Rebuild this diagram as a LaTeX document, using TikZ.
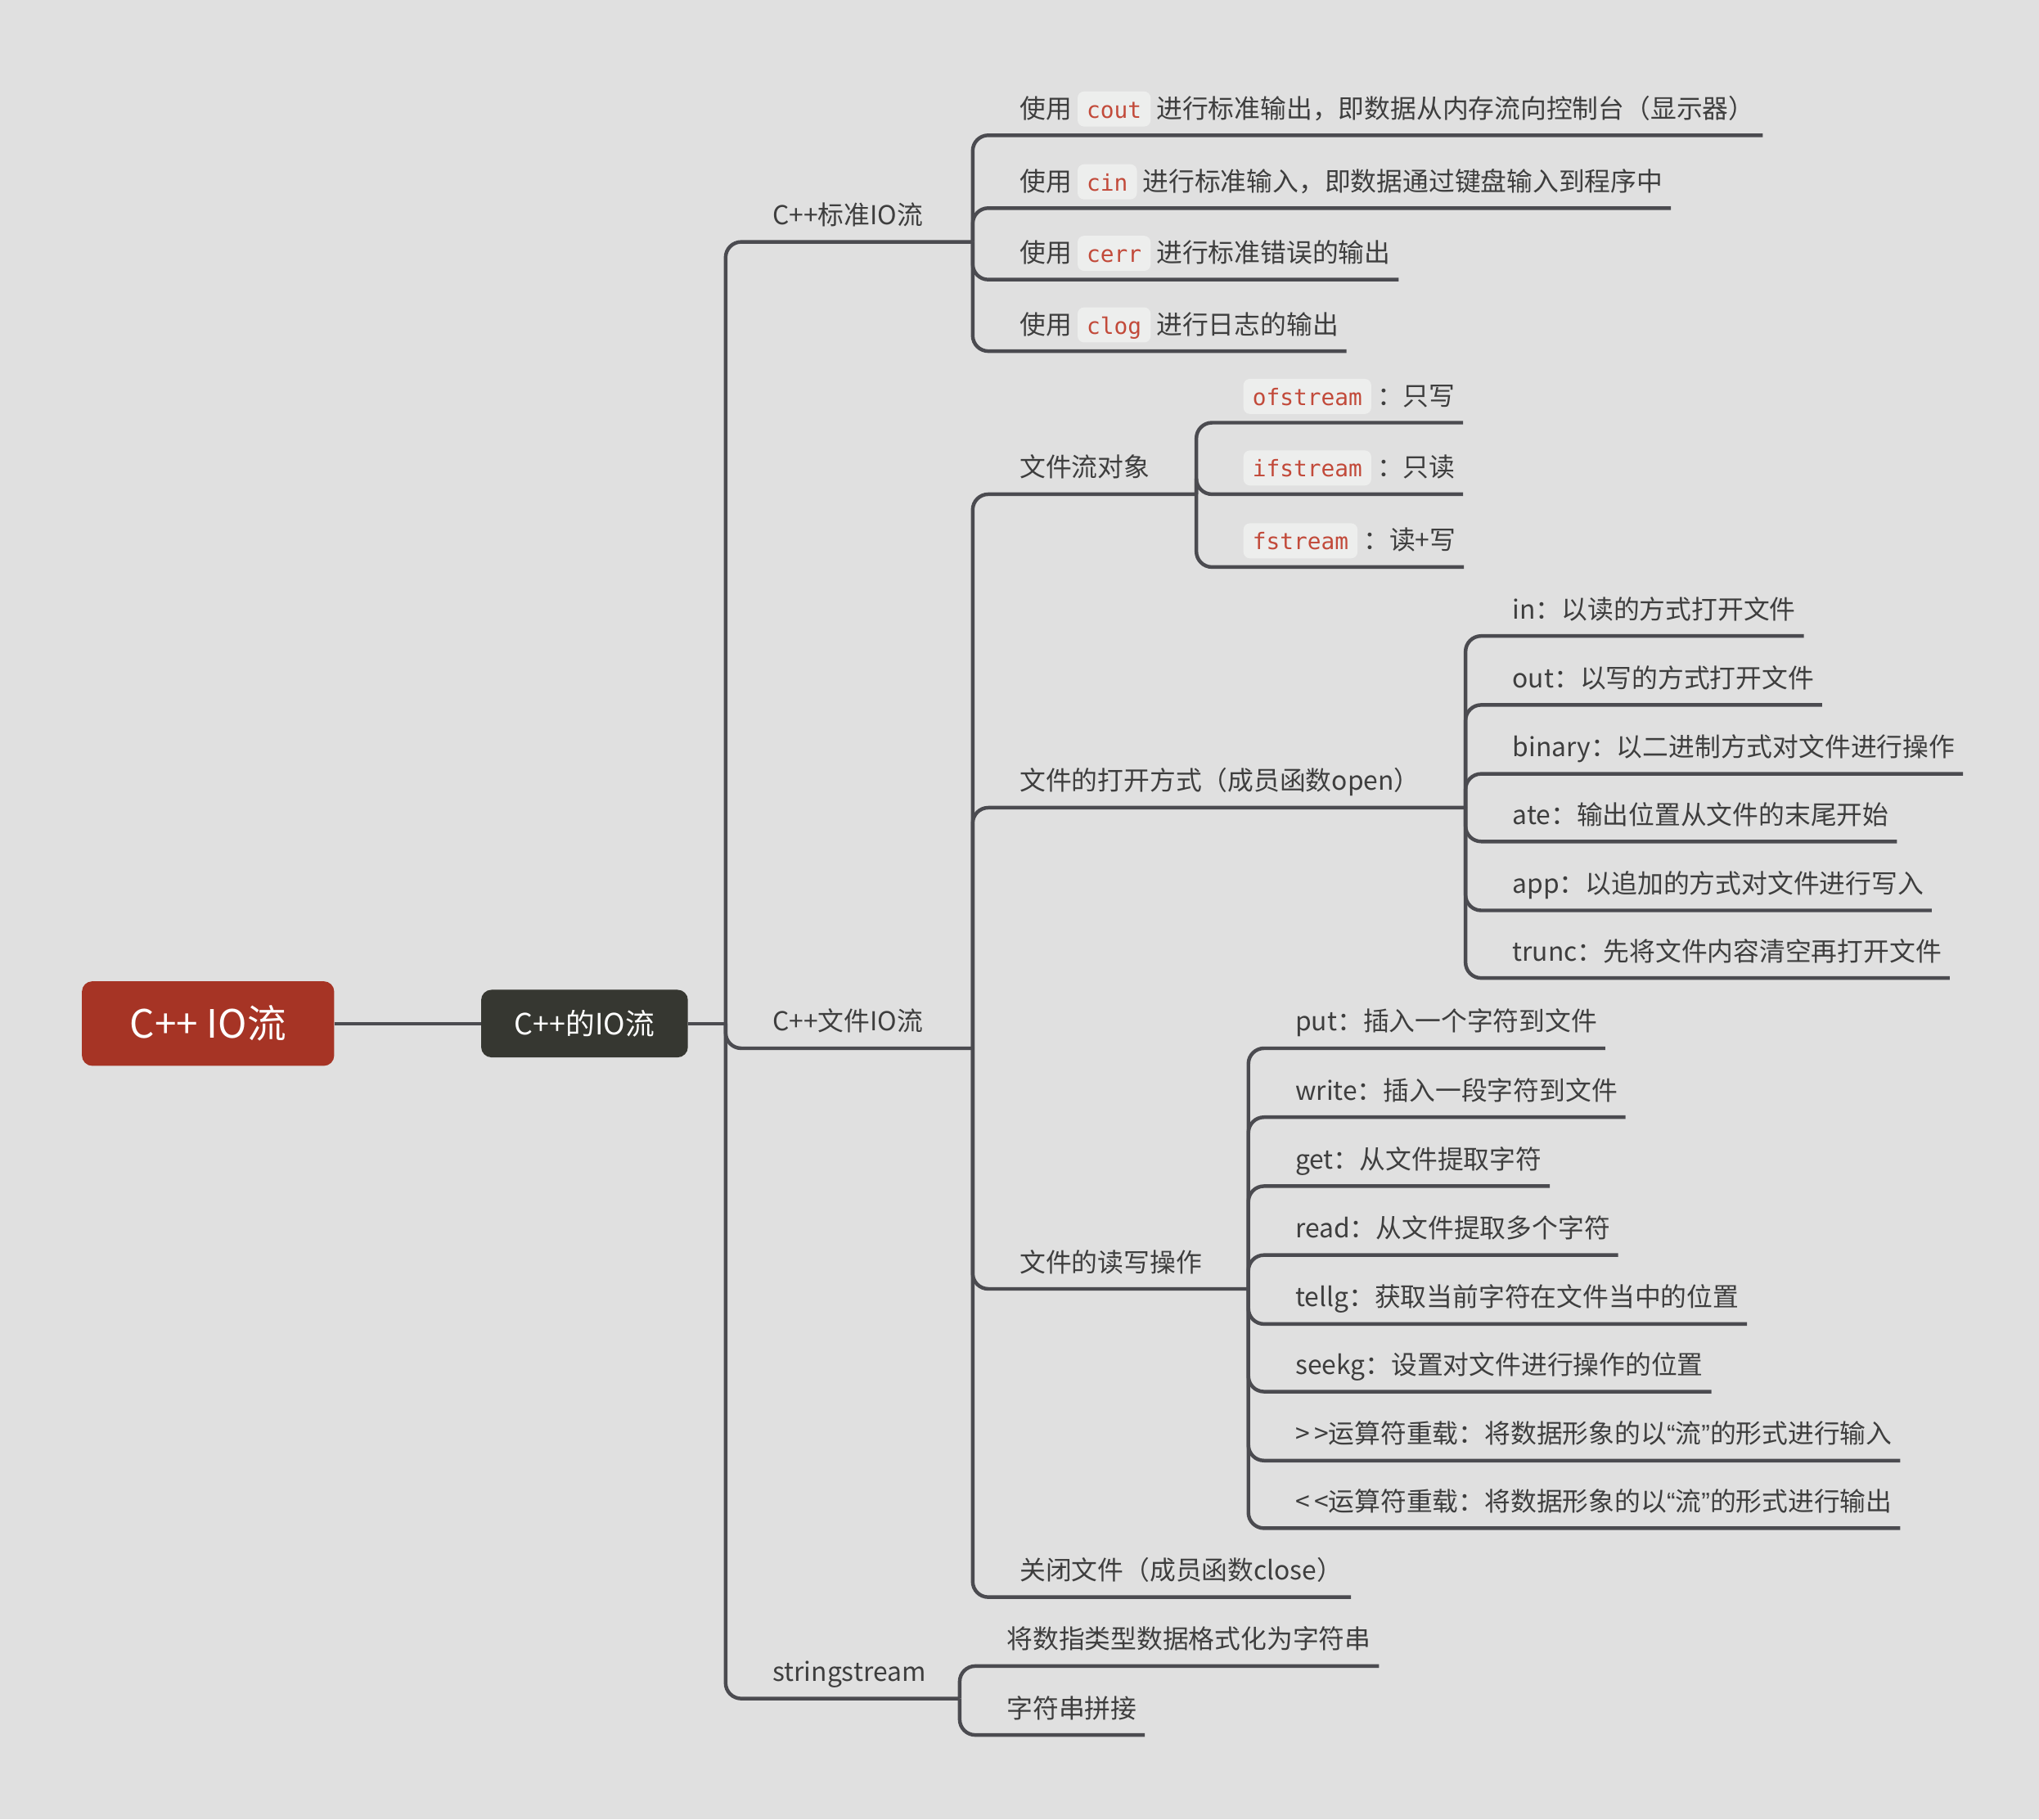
\documentclass[tikz,border=0pt]{standalone}
\usepackage{fontspec}
\setmainfont{Noto Sans CJK SC}
\newfontfamily\monofnt{DejaVu Sans Mono}
\newfontfamily\quotefnt{Liberation Sans}
\definecolor{bgGray}{HTML}{E0E0E0}
\definecolor{lineGray}{HTML}{4B4B50}
\definecolor{textGray}{HTML}{3E3E3E}
\definecolor{rootRed}{HTML}{A63425}
\definecolor{subDark}{HTML}{363731}
\definecolor{codeRed}{HTML}{C24A3A}
\definecolor{codeFill}{HTML}{EDEEED}
\tikzset{
  rootbox/.style={fill=rootRed,rounded corners=8pt,minimum width=194pt,minimum height=65pt,
    text=white,font=\fontsize{30}{34}\selectfont,inner sep=0pt},
  subbox/.style={fill=subDark,rounded corners=8pt,minimum width=159pt,minimum height=52pt,
    text=white,font=\fontsize{22.5}{26}\selectfont,inner sep=0pt},
  leaf/.style={anchor=south west,inner xsep=6pt,inner ysep=8pt,text height=16pt,text depth=5pt,
    text=textGray,font=\fontsize{20}{24}\selectfont},
  codebox/.style={anchor=base,fill=codeFill,rounded corners=5pt,draw=none,inner xsep=7pt,
    inner ysep=4.5pt,text height=16pt,text depth=2pt,text=codeRed,font=\monofnt\fontsize{17.5}{20}\selectfont},
  branch/.style={draw=lineGray,line width=2.8pt,rounded corners=12pt},
}
\newcommand{\kw}[1]{\tikz[baseline=(kw.base)]\node[codebox](kw){#1};}
\newcommand{\qt}[1]{{\quotefnt “}#1{\quotefnt ”}}

\begin{document}
\begin{tikzpicture}[x=1pt,y=1pt,yscale=-1]
\path[fill=bgGray,use as bounding box] (0,0) rectangle (1568,1399);

% Root and central topic
\node[rootbox] (root) at (160,787) {C++ IO流};
\node[subbox] (sub) at (449.5,787) {C++的IO流};
\coordinate (hub) at (558,787);

% Main branches
\node[leaf] (std) at (588,186) {C++标准IO流};
\node[leaf] (file) at (588,806) {C++文件IO流};
\node[leaf] (sstr) at (588,1306) {stringstream};
\coordinate (std-fork) at (748,186);
\coordinate (file-fork) at (748,806);
\coordinate (sstr-fork) at (738,1306);

% Standard IO
\node[leaf] (cout) at (778,104) {使用 \kw{cout} 进行标准输出，即数据从内存流向控制台（显示器）};
\node[leaf] (cin) at (778,160) {使用 \kw{cin} 进行标准输入，即数据通过键盘输入到程序中};
\node[leaf] (cerr) at (778,215) {使用 \kw{cerr} 进行标准错误的输出};
\node[leaf] (clog) at (778,270) {使用 \kw{clog} 进行日志的输出};

% File IO
\node[leaf] (fobj) at (778,380) {文件流对象};
\node[leaf] (fopen) at (778,621) {文件的打开方式（成员函数open）};
\node[leaf] (frw) at (778,991) {文件的读写操作};
\node[leaf] (fclose) at (778,1228) {关闭文件（成员函数close）};
\coordinate (fobj-fork) at (920,380);
\coordinate (fopen-fork) at (1127,621);
\coordinate (frw-fork) at (960,991);

% Stream objects
\node[leaf] (ofs) at (950,325) {\kw{ofstream} ：只写};
\node[leaf] (ifs) at (950,380) {\kw{ifstream} ：只读};
\node[leaf] (fs) at (950,436) {\kw{fstream} ：读+写};

% Open modes
\node[leaf] (m-in) at (1157,489) {in：以读的方式打开文件};
\node[leaf] (m-out) at (1157,542) {out：以写的方式打开文件};
\node[leaf] (m-bin) at (1157,595) {binary：以二进制方式对文件进行操作};
\node[leaf] (m-ate) at (1157,647) {ate：输出位置从文件的末尾开始};
\node[leaf] (m-app) at (1157,700) {app：以追加的方式对文件进行写入};
\node[leaf] (m-trunc) at (1157,752) {trunc：先将文件内容清空再打开文件};

% Read / write
\node[leaf] (put) at (990,806) {put：插入一个字符到文件};
\node[leaf] (write) at (990,859) {write：插入一段字符到文件};
\node[leaf] (get) at (990,912) {get：从文件提取字符};
\node[leaf] (read) at (990,965) {read：从文件提取多个字符};
\node[leaf] (tellg) at (990,1018) {tellg：获取当前字符在文件当中的位置};
\node[leaf] (seekg) at (990,1070) {seekg：设置对文件进行操作的位置};
\node[leaf] (opin) at (990,1123) {>\,>运算符重载：将数据形象的以\qt{流}的形式进行输入};
\node[leaf] (opout) at (990,1175) {<\,<运算符重载：将数据形象的以\qt{流}的形式进行输出};

% stringstream
\node[leaf] (fmt) at (768,1281) {将数指类型数据格式化为字符串};
\node[leaf] (concat) at (768,1334) {字符串拼接};

% Connections
\draw[branch] (root.east) -- (sub.west);
\draw[branch] (sub.east) -- (hub);
\foreach \n/\f in {std/std-fork,file/file-fork,sstr/sstr-fork}
  \draw[branch] (hub) |- (\n.south west) -- (\n.south east) -- (\f);
\foreach \n in {cout,cin,cerr,clog}
  \draw[branch] (std-fork) |- (\n.south west) -- (\n.south east);
\foreach \n/\f in {fobj/fobj-fork,fopen/fopen-fork,frw/frw-fork}
  \draw[branch] (file-fork) |- (\n.south west) -- (\n.south east) -- (\f);
\draw[branch] (file-fork) |- (fclose.south west) -- (fclose.south east);
\foreach \n in {ofs,ifs,fs}
  \draw[branch] (fobj-fork) |- (\n.south west) -- (\n.south east);
\foreach \n in {m-in,m-out,m-bin,m-ate,m-app,m-trunc}
  \draw[branch] (fopen-fork) |- (\n.south west) -- (\n.south east);
\foreach \n in {put,write,get,read,tellg,seekg,opin,opout}
  \draw[branch] (frw-fork) |- (\n.south west) -- (\n.south east);
\foreach \n in {fmt,concat}
  \draw[branch] (sstr-fork) |- (\n.south west) -- (\n.south east);

\end{tikzpicture}
\end{document}
